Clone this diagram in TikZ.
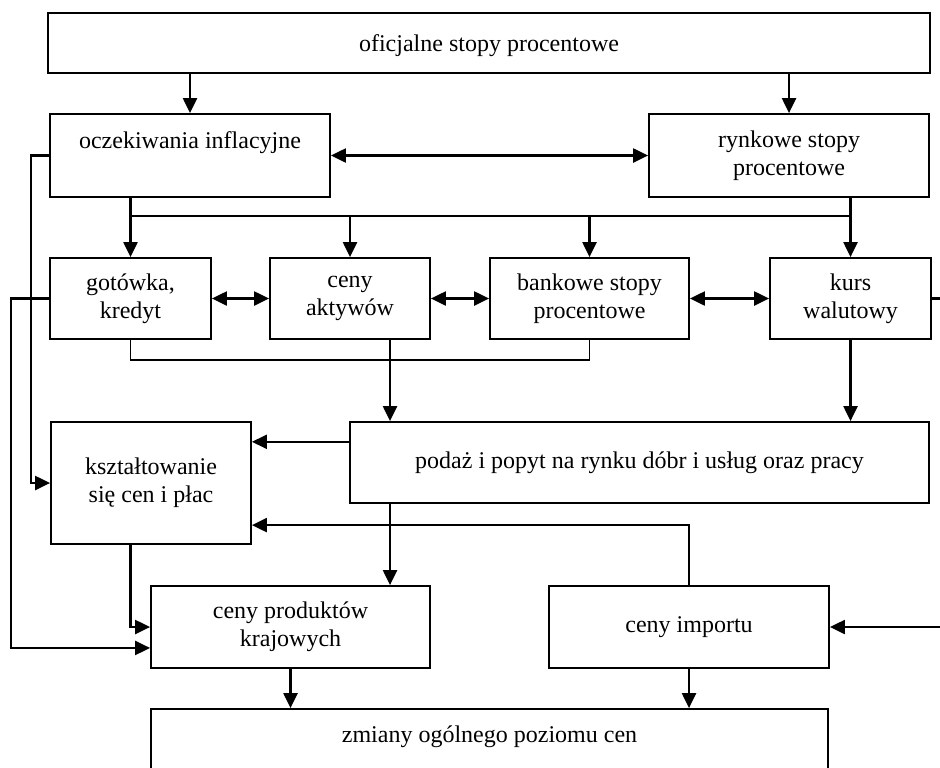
\documentclass[tikz,border=0pt]{standalone}
\usepackage{fontspec}
\setmainfont{Liberation Serif}
\usetikzlibrary{arrows.meta,calc}

\begin{document}
\begin{tikzpicture}[x=0.5pt,y=-0.5pt]

        \tikzstyle{box} = [rectangle, draw=black, line width=0.9pt, align=center, inner sep=3pt, font=\fontsize{12pt}{14pt}\selectfont]
        \tikzstyle{arrow} = [line width=1.1pt, -{Triangle[length=7.5pt,width=7pt]}]
        \tikzstyle{biarrow} = [line width=1.1pt, {Triangle[length=7.5pt,width=7pt]}-{Triangle[length=7.5pt,width=7pt]}]
        \tikzstyle{link} = [line width=0.7pt]

        \useasboundingbox (0,0) rectangle (940,767);

        \node (oficjalne) [box, minimum width=441pt, minimum height=30pt, text depth=0pt] at (489,43) {oficjalne stopy procentowe};
        \node (oczekiwania) [box, minimum width=140pt, minimum height=41.5pt, text depth=15pt] at (190,155.5) {oczekiwania inflacyjne};
        \node (rynkowe) [box, minimum width=140pt, minimum height=41.5pt] at (789,155.5) {rynkowe stopy\\procentowe};
        \node (gotowka) [box, minimum width=80.5pt, minimum height=40.5pt] at (130.5,298.5) {gotówka,\\kredyt};
        \node (aktywa) [box, minimum width=80pt, minimum height=40.5pt] at (350,298.5) {ceny\\aktywów};
        \node (bankowe) [box, minimum width=99.5pt, minimum height=40.5pt] at (589.5,298.5) {bankowe stopy\\procentowe};
        \node (kurs) [box, minimum width=80.5pt, minimum height=40.5pt] at (850.5,298.5) {kurs\\walutowy};
        \node (ksztalt) [box, minimum width=100pt, minimum height=61pt] at (151,483) {kształtowanie\\się cen i płac};
        \node (podaz) [box, minimum width=289.5pt, minimum height=40.5pt] at (639.5,462.5) {podaż i popyt na rynku dóbr i usług oraz pracy};
        \node (krajowe) [box, minimum width=139.5pt, minimum height=41pt] at (290.5,627) {ceny produktów\\krajowych};
        \node (import) [box, minimum width=140pt, minimum height=41pt] at (689,627) {ceny importu};
        \node (zmiany) [box, minimum width=338.5pt, minimum height=45.5pt, text depth=20pt] at (489.5,754.5) {zmiany ogólnego poziomu cen};

        % Rails and bends
        \coordinate (bus) at (0,216);
        \coordinate (join) at (390,360);
        \coordinate (railA) at (31,0);
        \coordinate (railB) at (11,0);
        \coordinate (kursout) at (940,298.5);
        \coordinate (importin) at (940,627);
        \coordinate (demand) at ($(podaz.north west)!0.25!(podaz.south west)$);
        \coordinate (wages) at ($(ksztalt.north east)!0.84!(ksztalt.south east)$);
        \coordinate (credit) at ($(krajowe.north west)!0.75!(krajowe.south west)$);

        % Arrows
        \draw [arrow] (oczekiwania.north |- oficjalne.south) -- (oczekiwania.north);
        \draw [arrow] (rynkowe.north |- oficjalne.south) -- (rynkowe.north);
        \draw [biarrow] (oczekiwania) -- (rynkowe);
        \draw [arrow] (gotowka.north |- oczekiwania.south) -- (gotowka.north);
        \draw [arrow] (kurs.north |- rynkowe.south) -- (kurs.north);
        \draw [link] (gotowka.north |- bus) -- (kurs.north |- bus);
        \draw [arrow] (aktywa.north |- bus) -- (aktywa.north);
        \draw [arrow] (bankowe.north |- bus) -- (bankowe.north);
        \draw [biarrow] (gotowka) -- (aktywa);
        \draw [biarrow] (aktywa) -- (bankowe);
        \draw [biarrow] (bankowe) -- (kurs);
        \draw [line width=1.1pt] (kurs.east) -- (kursout);
        \draw [link] (gotowka.south) |- (join) -| (bankowe.south);
        \draw [arrow] (aktywa.south -| join) -- (podaz.north -| join);
        \draw [arrow] (kurs.south) -- (kurs.south |- podaz.north);
        \draw [arrow] (demand) -- (ksztalt.east |- demand);
        \draw [arrow] (import.north) |- (wages);
        \draw [arrow] (podaz.south -| join) -- (krajowe.north -| join);
        \draw [arrow] (ksztalt.south -| gotowka.south) |- (krajowe.west);
        \draw [arrow] (oczekiwania.west) -- (oczekiwania.west -| railA) |- (ksztalt.west);
        \draw [arrow] (gotowka.west) -- (gotowka.west -| railB) |- (credit);
        \draw [arrow] (importin) -- (import.east);
        \draw [arrow] (krajowe.south) -- (krajowe.south |- zmiany.north);
        \draw [arrow] (import.south) -- (import.south |- zmiany.north);

\end{tikzpicture}
\end{document}
